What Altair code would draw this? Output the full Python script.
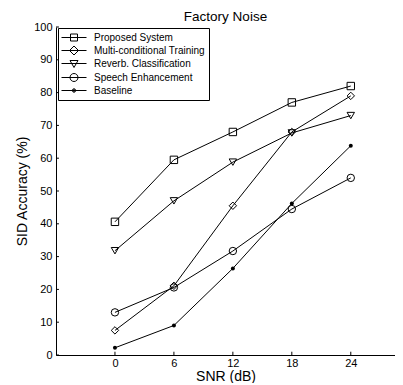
import altair as alt
import pandas as pd

snr = [0, 6, 12, 18, 24]
series_names = ["Proposed System", "Multi-conditional Training",
                "Reverb. Classification", "Speech Enhancement", "Baseline"]
proposed = [40.6, 59.5, 68.0, 77.0, 82.0]
multi = [7.5, 21.1, 45.5, 68.0, 79.0]
reverb = [31.8, 47.0, 58.8, 67.7, 73.0]
speech = [13.0, 20.6, 31.7, 44.5, 54.0]
baseline = [2.2, 9.0, 26.4, 46.2, 63.8]
x_ticks = [0, 6, 12, 18, 24]
y_ticks = [0, 10, 20, 30, 40, 50, 60, 70, 80, 90, 100]

rows = []
for name, vals in zip(series_names, [proposed, multi, reverb, speech, baseline]):
    for s, v in zip(snr, vals):
        rows.append({"snr": s, "acc": v, "series": name})
df = pd.DataFrame(rows)

FONT = "Liberation Sans"
x_scale = alt.Scale(domain=[-6, 28.5], nice=False, zero=False)
y_scale = alt.Scale(domain=[0, 100], nice=False, zero=False)
x_axis = alt.Axis(values=x_ticks, title="SNR (dB)", labelPadding=2, titlePadding=1,
                  labelOverlap=False)
y_axis = alt.Axis(values=y_ticks, tickCount=11, title="SID Accuracy (%)", labelPadding=4,
                  titlePadding=4, labelOverlap=False)

X = alt.X("snr:Q", scale=x_scale, axis=x_axis)
Y = alt.Y("acc:Q", scale=y_scale, axis=y_axis)

base = alt.Chart(df)

lines = base.mark_line(color="black", strokeWidth=1).encode(x=X, y=Y, detail="series:N")

open_names = series_names[:4]
open_pts = base.transform_filter(
    alt.FieldOneOfPredicate(field="series", oneOf=open_names)
).mark_point(filled=False, stroke="black", strokeWidth=1, opacity=1, size=55).encode(
    x=X, y=Y,
    shape=alt.Shape("series:N", scale=alt.Scale(domain=open_names,
                    range=["square", "diamond", "triangle-down", "circle"]), legend=None),
)

base_pts = base.transform_filter(
    alt.FieldEqualPredicate(field="series", equal="Baseline")
).mark_circle(color="black", opacity=1, size=16).encode(x=X, y=Y)

# legend glyphs: line through marker (unit = 5px at symbolSize 100)
legend_paths = [
    "M-1.2,0H3.8M0.6,-0.7H2.0V0.7H0.6Z",
    "M-1.2,0H3.8M1.3,-0.9L2.2,0L1.3,0.9L0.4,0Z",
    "M-1.2,0H3.8M0.5,-0.6H2.1L1.3,0.8Z",
    "M-1.2,0H3.8M0.5,0A0.8,0.8,0,1,1,2.1,0A0.8,0.8,0,1,1,0.5,0Z",
    "M-1.2,0H3.8M0.95,0A0.35,0.35,0,1,1,1.65,0A0.35,0.35,0,1,1,0.95,0Z"
    "M1.1,0A0.2,0.2,0,1,1,1.5,0A0.2,0.2,0,1,1,1.1,0Z",
]
legend_layer = base.mark_point(opacity=0, filled=False).encode(
    x=X, y=Y,
    shape=alt.Shape("series:N", scale=alt.Scale(domain=series_names, range=legend_paths),
                    legend=alt.Legend(title=None, orient="none", legendX=2, legendY=1,
                                      padding=4, strokeColor="black", fillColor="white",
                                      symbolSize=100, symbolStrokeColor="black",
                                      symbolStrokeWidth=1, symbolFillColor="transparent",
                                      symbolOpacity=1,
                                      labelFont=FONT, labelFontSize=10, labelColor="black",
                                      labelOffset=21, rowPadding=1)),
)

xt = pd.DataFrame({"t": x_ticks})
yt = pd.DataFrame({"t": y_ticks})
x_tick_rules = alt.Chart(xt).mark_rule(color="black", strokeWidth=1).encode(
    x=alt.X("t:Q", scale=x_scale, axis=x_axis),
    y=alt.YDatum(0, scale=y_scale, axis=y_axis), y2=alt.Y2Datum(1.0))
y_tick_rules = alt.Chart(yt).mark_rule(color="black", strokeWidth=1).encode(
    y=alt.Y("t:Q", scale=y_scale, axis=y_axis),
    x=alt.XDatum(-6, scale=x_scale, axis=x_axis), x2=alt.X2Datum(-5.7))

chart = alt.layer(lines, open_pts, base_pts, x_tick_rules, y_tick_rules, legend_layer).resolve_scale(
    shape="independent"
).properties(
    width=339, height=328,
    autosize=alt.AutoSizeParams(type="none"),
    padding={"left": 48, "top": 19, "right": 0, "bottom": 28},
    title=alt.TitleParams("Factory Noise", font=FONT, fontSize=13.5, fontWeight="normal",
                          color="black", anchor="middle", offset=-2),
).configure_view(stroke=None).configure_axis(
    domainColor="black", domainWidth=1, ticks=False, grid=False,
    labelFont=FONT, labelFontSize=11, labelColor="black",
    titleFont=FONT, titleFontSize=14, titleFontWeight="normal", titleColor="black",
)

chart.save("out.html", embed_options={"renderer": "svg", "actions": False})
